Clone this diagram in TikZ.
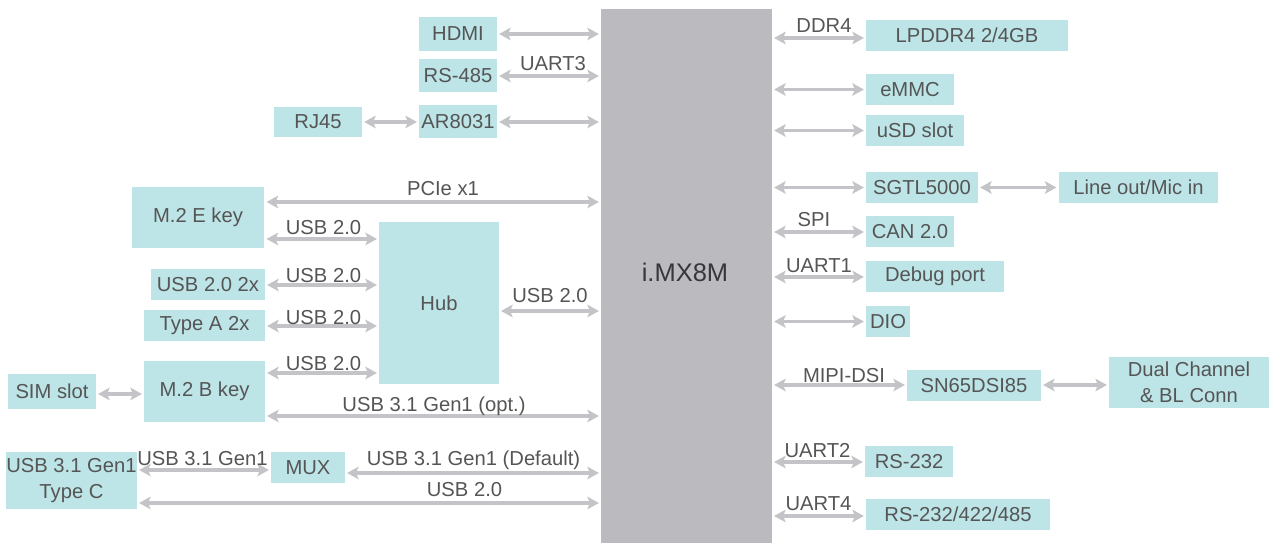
\documentclass[tikz,border=0pt]{standalone}
\usepackage{fontspec}
\setmainfont{Liberation Sans}
\usetikzlibrary{arrows.meta}

\definecolor{boxteal}{RGB}{189,228,230}
\definecolor{cpugray}{RGB}{187,187,191}
\definecolor{linkgray}{RGB}{196,196,200}
\definecolor{txtgray}{RGB}{85,85,85}
\definecolor{cputxt}{RGB}{55,55,58}
\newcommand\txtfont{\fontsize{11.5}{14.5}\selectfont}

\begin{document}
\begin{tikzpicture}[x=0.02cm, y=-0.02cm,
    >={Stealth[length=0.23cm,width=0.25cm,inset=0.05cm]},
    box/.style={fill=boxteal, text=txtgray, inner sep=0pt, minimum height=0.62cm, align=center, font=\txtfont},
    lbl/.style={text=txtgray, inner sep=0pt, anchor=base, font=\txtfont},
    link/.style={<->, draw=linkgray, line width=1.8pt, shorten <=1pt, shorten >=1pt}]
    \useasboundingbox (0,0) rectangle (1269,543);

    % Processor in the middle
    \node[fill=cpugray, inner sep=0pt, minimum width=3.42cm, minimum height=10.7cm] (cpu) at (686.5,276) {};
    \node[text=cputxt, anchor=base, font=\fontsize{14.5}{16}\selectfont] (cpuname) at (685,282) {i.MX8M};

    % Left side blocks
    \node[box, minimum width=1.56cm, minimum height=0.68cm] (hdmi) at (458,34) {HDMI};
    \node[box, minimum width=1.56cm, minimum height=0.66cm] (rs485) at (458,75.5) {RS-485};
    \node[box, minimum width=1.56cm, minimum height=0.66cm] (ar8031) at (458,121.5) {AR8031};
    \node[box, minimum width=1.76cm, minimum height=0.6cm] (rj45) at (318,122) {RJ45};
    \node[box, minimum width=2.66cm, minimum height=1.22cm] (m2e) at (198,217.5) {M.2 E key};
    \node[box, minimum width=2.4cm, minimum height=3.24cm] (hub) at (439,303) {Hub};
    \node[box, minimum width=2.28cm] (usbtwo) at (208,284.5) {USB 2.0 2x};
    \node[box, minimum width=2.42cm] (typea) at (204.5,325.5) {Type A 2x};
    \node[box, minimum width=2.42cm, minimum height=1.22cm] (m2b) at (204.5,391.5) {M.2 B key};
    \node[box, minimum width=1.76cm, minimum height=0.7cm] (sim) at (52,391.5) {SIM slot};
    \node[box, minimum width=2.62cm, minimum height=1.14cm] (typec) at (71.5,480.5) {USB 3.1 Gen1\\Type C};
    \node[box, minimum width=1.48cm] (mux) at (308,467.5) {MUX};

    % Right side blocks
    \node[box, minimum width=4.04cm] (lpddr) at (967,35.5) {LPDDR4 2/4GB};
    \node[box, minimum width=1.76cm] (emmc) at (910,89.5) {eMMC};
    \node[box, minimum width=1.96cm] (usd) at (915,130.5) {uSD slot};
    \node[box, minimum width=2.24cm] (sgtl) at (922,187.5) {SGTL5000};
    \node[box, minimum width=3.2cm] (lineout) at (1138.5,187.5) {Line out/Mic in};
    \node[box, minimum width=1.76cm] (can) at (910,231.5) {CAN 2.0};
    \node[box, minimum width=2.76cm] (debug) at (935,276.5) {Debug port};
    \node[box, minimum width=0.88cm] (dio) at (888,321.5) {DIO};
    \node[box, minimum width=2.68cm] (sn65) at (974,385.5) {SN65DSI85};
    \node[box, minimum width=3.2cm, minimum height=1.02cm] (dual) at (1189,382.5) {Dual Channel\\\& BL Conn};
    \node[box, minimum width=1.76cm] (rs232) at (909,461.5) {RS-232};
    \node[box, minimum width=3.68cm] (rs232m) at (958,514.5) {RS-232/422/485};

    % Left side links
    \draw[link] (hdmi) -- (hdmi -| cpu.west);
    \draw[link] (rs485.east |- 0,76) -- (cpu.west |- 0,76);
    \draw[link] (ar8031.east |- 0,122) -- (cpu.west |- 0,122);
    \draw[link] (rj45.east) -- (ar8031.west |- rj45.east);
    \draw[link] (m2e.east |- 0,202) -- (cpu.west |- 0,202);
    \draw[link] (m2e.east |- 0,239) -- (hub.west |- 0,239);
    \draw[link] (usbtwo.east |- 0,285) -- (hub.west |- 0,285);
    \draw[link] (typea.east |- 0,326) -- (hub.west |- 0,326);
    \draw[link] (m2b.east |- 0,373) -- (hub.west |- 0,373);
    \draw[link] (hub.east |- 0,311) -- (cpu.west |- 0,311);
    \draw[link] (sim.east |- 0,394) -- (m2b.west |- 0,394);
    \draw[link] (m2b.east |- 0,416) -- (cpu.west |- 0,416);
    \draw[link] (typec.east |- 0,470) -- (mux.west |- 0,470);
    \draw[link] (mux.east |- 0,473) -- (cpu.west |- 0,473);
    \draw[link] (typec.east |- 0,503) -- (cpu.west |- 0,503);

    % Right side links
    \draw[link] (cpu.east |- 0,38) -- (lpddr.west |- 0,38);
    \draw[link] (cpu.east |- emmc) -- (emmc);
    \draw[link] (cpu.east |- usd) -- (usd);
    \draw[link] (cpu.east |- sgtl) -- (sgtl);
    \draw[link] (sgtl) -- (lineout);
    \draw[link] (cpu.east |- 0,232) -- (can.west |- 0,232);
    \draw[link] (cpu.east |- 0,277) -- (debug.west |- 0,277);
    \draw[link] (cpu.east |- dio) -- (dio);
    \draw[link] (cpu.east |- 0,385) -- (sn65.west |- 0,385);
    \draw[link] (sn65.east |- 0,385) -- (dual.west |- 0,385);
    \draw[link] (cpu.east |- 0,462) -- (rs232.west |- 0,462);
    \draw[link] (cpu.east |- 0,516) -- (rs232m.west |- 0,516);

    % Bus labels
    \node[lbl] (uartthree) at (553,71) {UART3};
    \node[lbl] (pcie) at (443,196) {PCIe x1};
    \node[lbl] (usbone) at (323.5,235) {USB 2.0};
    \node[lbl] (usbtwolbl) at (323.5,283) {USB 2.0};
    \node[lbl] (usbthree) at (323.5,325) {USB 2.0};
    \node[lbl] (usbfour) at (323.5,371) {USB 2.0};
    \node[lbl] (usbhub) at (550,303) {USB 2.0};
    \node[lbl] (usbopt) at (434,412) {USB 3.1 Gen1 (opt.)};
    \node[lbl] (usbmux) at (202.5,466) {USB 3.1 Gen1};
    \node[lbl] (usbdef) at (473.5,466) {USB 3.1 Gen1 (Default)};
    \node[lbl] (usbtypec) at (464.5,497) {USB 2.0};
    \node[lbl] (ddr) at (824,33) {DDR4};
    \node[lbl] (spi) at (814,227) {SPI};
    \node[lbl] (uartone) at (819,273) {UART1};
    \node[lbl] (mipi) at (844,383) {MIPI-DSI};
    \node[lbl] (uarttwo) at (817.5,458) {UART2};
    \node[lbl] (uartfour) at (818.5,511) {UART4};
\end{tikzpicture}
\end{document}
